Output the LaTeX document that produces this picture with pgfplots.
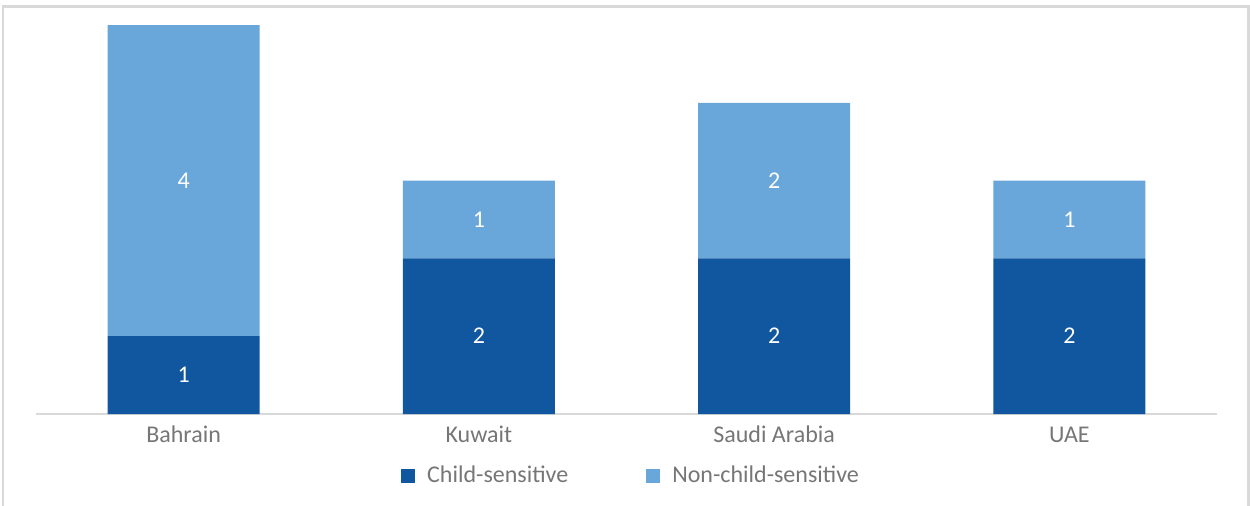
\documentclass[border=0pt]{standalone}
\usepackage{fontspec}
\setmainfont{Carlito}
\usepackage{pgfplots}
\usepackage{pgfplotstable}
\pgfplotsset{compat=1.18}
\definecolor{darkb}{RGB}{16,87,160}
\definecolor{lightb}{RGB}{105,166,218}
\definecolor{lblgray}{RGB}{118,118,118}
\definecolor{frameg}{RGB}{217,217,217}
\pgfplotstableread{
x child non
0 1 4
1 2 1
2 2 2
3 2 1
}\datatab
\begin{document}
\begin{tikzpicture}
\useasboundingbox (0,0) rectangle (625pt,252.5pt);
\draw[frameg, line width=1.2pt] (1.4pt,-5pt) -- (1.4pt,249.3pt) -- (624.3pt,249.3pt) -- (624.3pt,-5pt);
\begin{axis}[
  at={(18pt,45.5pt)}, anchor=south west,
  width=590.5pt, height=194.5pt, scale only axis,
  ybar stacked, bar width=76pt,
  xmin=-0.5, xmax=3.5, ymin=0, ymax=5,
  axis y line=none,
  axis x line=bottom,
  x axis line style={-, draw=frameg, line width=1pt},
  xtick={0,1,2,3},
  xticklabels={Bahrain,Kuwait,Saudi Arabia,UAE},
  major tick length=0pt,
  xticklabel style={font=\fontsize{12}{14}\selectfont, text=lblgray, anchor=base, inner sep=0pt, yshift=-14.3pt},
  visualization depends on=rawy \as \rawy,
  nodes near coords={\pgfmathprintnumber[assume math mode=true,fixed,precision=0]{\rawy}},
  every node near coord/.append style={font=\fontsize{12}{14}\selectfont, text=white, anchor=center},
  legend columns=2,
  legend style={draw=none, fill=none, at={(rel axis cs:0.503,-0.159)}, anchor=center,
    font=\fontsize{12}{14}\selectfont, text=lblgray,
    nodes={inner sep=0pt},
    /tikz/every odd column/.append style={column sep=6pt},
    /tikz/every even column/.append style={column sep=39pt}},
  legend image code/.code={\fill[#1] (0pt,-3.5pt) rectangle (7pt,3.5pt);},
  clip=false,
]
\addplot[fill=darkb, draw=none] table[x=x, y=child] {\datatab};
\addlegendentry{Child-sensitive}
\addplot[fill=lightb, draw=none] table[x=x, y=non] {\datatab};
\addlegendentry{Non-child-sensitive}
\end{axis}
\end{tikzpicture}
\end{document}
